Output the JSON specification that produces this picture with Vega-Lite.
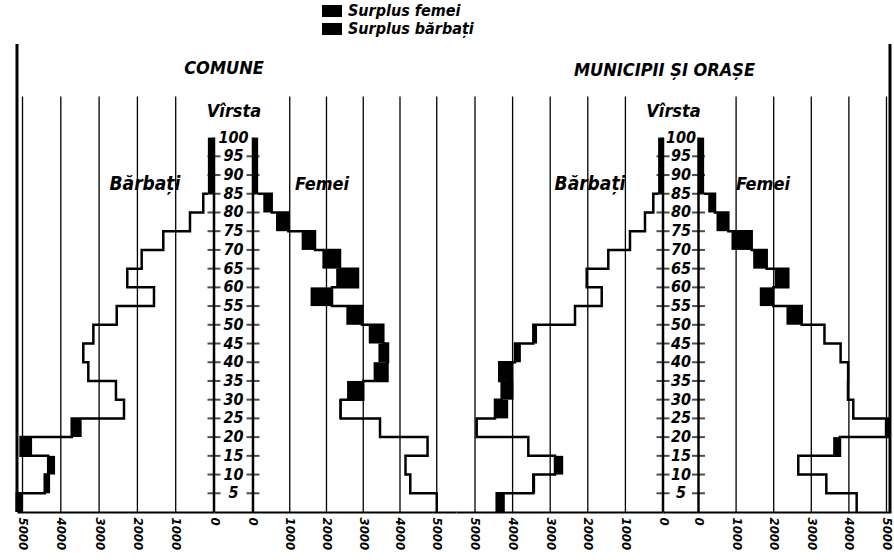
{
"$schema": "https://vega.github.io/schema/vega-lite/v6.json",
"padding": {"left": 11, "top": 1, "right": 0, "bottom": 0},
"background": "white",
"datasets": {
"pop": [
{"p":"C","a0":0,"a1":5,"m":5150,"f":5000},
{"p":"C","a0":5,"a1":10,"m":4420,"f":4280},
{"p":"C","a0":10,"a1":15,"m":4330,"f":4150},
{"p":"C","a0":15,"a1":20,"m":5050,"f":4750},
{"p":"C","a0":20,"a1":25,"m":3715,"f":3456},
{"p":"C","a0":25,"a1":30,"m":2350,"f":2386},
{"p":"C","a0":30,"a1":35,"m":2560,"f":3000},
{"p":"C","a0":35,"a1":40,"m":3282,"f":3660},
{"p":"C","a0":40,"a1":45,"m":3413,"f":3673},
{"p":"C","a0":45,"a1":50,"m":3150,"f":3546},
{"p":"C","a0":50,"a1":55,"m":2540,"f":2966},
{"p":"C","a0":55,"a1":60,"m":1567,"f":2150},
{"p":"C","a0":60,"a1":65,"m":2264,"f":2857},
{"p":"C","a0":65,"a1":70,"m":1888,"f":2367},
{"p":"C","a0":70,"a1":75,"m":1324,"f":1687},
{"p":"C","a0":75,"a1":80,"m":627,"f":961},
{"p":"C","a0":80,"a1":85,"m":280,"f":509},
{"p":"C","a0":85,"a1":100,"m":160,"f":140},
{"p":"O","a0":0,"a1":5,"m":4423,"f":4207},
{"p":"O","a0":5,"a1":10,"m":3450,"f":3400},
{"p":"O","a0":10,"a1":15,"m":2872,"f":2654},
{"p":"O","a0":15,"a1":20,"m":3582,"f":3763},
{"p":"O","a0":20,"a1":25,"m":4955,"f":5048},
{"p":"O","a0":25,"a1":30,"m":4468,"f":4117},
{"p":"O","a0":30,"a1":35,"m":4290,"f":3976},
{"p":"O","a0":35,"a1":40,"m":4354,"f":3980},
{"p":"O","a0":40,"a1":45,"m":3936,"f":3780},
{"p":"O","a0":45,"a1":50,"m":3449,"f":3350},
{"p":"O","a0":50,"a1":55,"m":2340,"f":2745},
{"p":"O","a0":55,"a1":60,"m":1630,"f":1989},
{"p":"O","a0":60,"a1":65,"m":2029,"f":2388},
{"p":"O","a0":65,"a1":70,"m":1455,"f":1814},
{"p":"O","a0":70,"a1":75,"m":878,"f":1415},
{"p":"O","a0":75,"a1":80,"m":479,"f":793},
{"p":"O","a0":80,"a1":85,"m":258,"f":439},
{"p":"O","a0":85,"a1":100,"m":130,"f":150}
],
"grid": [{"v":1000},{"v":2000},{"v":3000},{"v":4000},{"v":5000}],
"ages": [{"age":5},{"age":10},{"age":15},{"age":20},{"age":25},{"age":30},{"age":35},{"age":40},{"age":45},{"age":50},{"age":55},{"age":60},{"age":65},{"age":70},{"age":75},{"age":80},{"age":85},{"age":90},{"age":95},{"age":100}],
"legend": [{"k":"Surplus femei"},{"k":"Surplus bărbați"}]
},
"spacing": 0,
"bounds": "flush",
"hconcat": [
{
"width": 197, "height": 468,
"layer": [
{"data":{"name":"grid"},"mark":{"type":"rule","color":"black","strokeWidth":1.3},
"encoding":{"x":{"field":"v","type":"quantitative","scale":{"domain":[0,5144],"reverse":true,"nice":false,"zero":false},"axis":{"values":[0,1000,2000,3000,4000,5000],"format":"d"},"title":null},
"y":{"datum":0,"type":"quantitative","scale":{"domain":[0,125],"nice":false,"zero":false},"axis":null},"y2":{"datum":111}}},
{"data":{"name":"pop"},"transform":[{"filter":"datum.p=='C' && datum.a0<85 && datum.m>datum.f"}],"mark":{"type":"rect","color":"black"},
"encoding":{"x":{"field":"f","type":"quantitative","scale":{"domain":[0,5144],"reverse":true,"nice":false,"zero":false},"axis":{"values":[0,1000,2000,3000,4000,5000],"format":"d"},"title":null},"x2":{"field":"m"},
"y":{"field":"a0","type":"quantitative","scale":{"domain":[0,125],"nice":false,"zero":false},"axis":null},"y2":{"field":"a1"}}},
{"data":{"name":"pop"},"transform":[{"filter":"datum.p=='C'"}],"mark":{"type":"line","interpolate":"step-before","color":"black","strokeWidth":2.5},
"encoding":{"x":{"field":"m","type":"quantitative","scale":{"domain":[0,5144],"reverse":true,"nice":false,"zero":false},"axis":{"values":[0,1000,2000,3000,4000,5000],"format":"d"},"title":null},
"y":{"field":"a0","type":"quantitative","scale":{"domain":[0,125],"nice":false,"zero":false},"axis":null},"order":{"field":"a0","type":"quantitative"}}},
{"data":{"name":"pop"},"transform":[{"filter":"datum.p=='C' && datum.a0==85"}],"mark":{"type":"rect","color":"black"},
"encoding":{"x":{"field":"m","type":"quantitative","scale":{"domain":[0,5144],"reverse":true,"nice":false,"zero":false},"axis":{"values":[0,1000,2000,3000,4000,5000],"format":"d"},"title":null},"x2":{"datum":0},
"y":{"field":"a0","type":"quantitative","scale":{"domain":[0,125],"nice":false,"zero":false},"axis":null},"y2":{"field":"a1"}}},
{"data":{"values":[{}]},"mark":{"type":"rule","color":"black","strokeWidth":2.5},
"encoding":{"x":{"datum":0,"type":"quantitative","scale":{"domain":[0,5144],"reverse":true,"nice":false,"zero":false},"axis":{"values":[0,1000,2000,3000,4000,5000],"format":"d"},"title":null},
"y":{"datum":0,"type":"quantitative","scale":{"domain":[0,125],"nice":false,"zero":false},"axis":null},"y2":{"datum":100}}},
{"data":{"values":[{}]},"mark":{"type":"rule","color":"black","strokeWidth":3},
"encoding":{"x":{"datum":5144,"type":"quantitative","scale":{"domain":[0,5144],"reverse":true,"nice":false,"zero":false},"axis":{"values":[0,1000,2000,3000,4000,5000],"format":"d"},"title":null},
"y":{"datum":0,"type":"quantitative","scale":{"domain":[0,125],"nice":false,"zero":false},"axis":null},"y2":{"datum":125}}},
{"data":{"name":"ages"},"transform":[{"filter":"datum.age<100"}],"mark":{"type":"tick","orient":"horizontal","size":13,"thickness":2,"color":"black"},
"encoding":{"x":{"datum":0,"type":"quantitative","scale":{"domain":[0,5144],"reverse":true,"nice":false,"zero":false},"axis":{"values":[0,1000,2000,3000,4000,5000],"format":"d"},"title":null},
"y":{"field":"age","type":"quantitative","scale":{"domain":[0,125],"nice":false,"zero":false},"axis":null}}},
{"data":{"values":[{"t":"Bărbați"}]},"mark":{"type":"text","fontSize":19,"fontStyle":"italic","fontWeight":"bold","align":"center","baseline":"alphabetic","color":"black"},
"encoding":{"x":{"datum":1802,"type":"quantitative","scale":{"domain":[0,5144],"reverse":true,"nice":false,"zero":false},"axis":{"values":[0,1000,2000,3000,4000,5000],"format":"d"},"title":null},
"y":{"datum":86,"type":"quantitative","scale":{"domain":[0,125],"nice":false,"zero":false},"axis":null},"text":{"field":"t"}}}
]
},
{
"width": 242, "height": 468,
"layer": [
{"data":{"name":"grid"},"mark":{"type":"rule","color":"black","strokeWidth":1.3},
"encoding":{"x":{"field":"v","type":"quantitative","scale":{"domain":[-1061,5524],"nice":false,"zero":false},"axis":{"values":[0,1000,2000,3000,4000,5000],"format":"d"},"title":null},
"y":{"datum":0,"type":"quantitative","scale":{"domain":[0,125],"nice":false,"zero":false},"axis":null},"y2":{"datum":111}}},
{"data":{"name":"pop"},"transform":[{"filter":"datum.p=='C' && datum.a0<85 && datum.f>datum.m"}],"mark":{"type":"rect","color":"black"},
"encoding":{"x":{"field":"m","type":"quantitative","scale":{"domain":[-1061,5524],"nice":false,"zero":false},"axis":{"values":[0,1000,2000,3000,4000,5000],"format":"d"},"title":null},"x2":{"field":"f"},
"y":{"field":"a0","type":"quantitative","scale":{"domain":[0,125],"nice":false,"zero":false},"axis":null},"y2":{"field":"a1"}}},
{"data":{"name":"pop"},"transform":[{"filter":"datum.p=='C'"}],"mark":{"type":"line","interpolate":"step-before","color":"black","strokeWidth":2.5},
"encoding":{"x":{"field":"f","type":"quantitative","scale":{"domain":[-1061,5524],"nice":false,"zero":false},"axis":{"values":[0,1000,2000,3000,4000,5000],"format":"d"},"title":null},
"y":{"field":"a0","type":"quantitative","scale":{"domain":[0,125],"nice":false,"zero":false},"axis":null},"order":{"field":"a0","type":"quantitative"}}},
{"data":{"name":"pop"},"transform":[{"filter":"datum.p=='C' && datum.a0==85"}],"mark":{"type":"rect","color":"black"},
"encoding":{"x":{"field":"f","type":"quantitative","scale":{"domain":[-1061,5524],"nice":false,"zero":false},"axis":{"values":[0,1000,2000,3000,4000,5000],"format":"d"},"title":null},"x2":{"datum":0},
"y":{"field":"a0","type":"quantitative","scale":{"domain":[0,125],"nice":false,"zero":false},"axis":null},"y2":{"field":"a1"}}},
{"data":{"values":[{}]},"mark":{"type":"rule","color":"black","strokeWidth":2.5},
"encoding":{"x":{"datum":0,"type":"quantitative","scale":{"domain":[-1061,5524],"nice":false,"zero":false},"axis":{"values":[0,1000,2000,3000,4000,5000],"format":"d"},"title":null},
"y":{"datum":0,"type":"quantitative","scale":{"domain":[0,125],"nice":false,"zero":false},"axis":null},"y2":{"datum":100}}},
{"data":{"name":"ages"},"transform":[{"filter":"datum.age<100"}],"mark":{"type":"tick","orient":"horizontal","size":13,"thickness":2,"color":"black"},
"encoding":{"x":{"datum":0,"type":"quantitative","scale":{"domain":[-1061,5524],"nice":false,"zero":false},"axis":{"values":[0,1000,2000,3000,4000,5000],"format":"d"},"title":null},
"y":{"field":"age","type":"quantitative","scale":{"domain":[0,125],"nice":false,"zero":false},"axis":null}}},
{"data":{"name":"ages"},"mark":{"type":"text","fontSize":16,"fontStyle":"italic","fontWeight":"bold","align":"center","baseline":"middle","color":"black"},
"encoding":{"x":{"datum":-531,"type":"quantitative","scale":{"domain":[-1061,5524],"nice":false,"zero":false},"axis":{"values":[0,1000,2000,3000,4000,5000],"format":"d"},"title":null},
"y":{"field":"age","type":"quantitative","scale":{"domain":[0,125],"nice":false,"zero":false},"axis":null},"text":{"field":"age","type":"quantitative"}}},
{"data":{"values":[{"t":"Vîrsta","x":-517,"y":105.5},{"t":"Femei","x":1878,"y":86},{"t":"COMUNE","x":-789,"y":117}]},"mark":{"type":"text","fontSize":18,"fontStyle":"italic","fontWeight":"bold","align":"center","baseline":"alphabetic","color":"black"},
"encoding":{"x":{"field":"x","type":"quantitative","scale":{"domain":[-1061,5524],"nice":false,"zero":false},"axis":{"values":[0,1000,2000,3000,4000,5000],"format":"d"},"title":null},
"y":{"field":"y","type":"quantitative","scale":{"domain":[0,125],"nice":false,"zero":false},"axis":null},"text":{"field":"t"}}},
{"data":{"name":"legend"},"mark":{"type":"point","opacity":0},
"encoding":{"x":{"datum":2000,"type":"quantitative","scale":{"domain":[-1061,5524],"nice":false,"zero":false},"axis":{"values":[0,1000,2000,3000,4000,5000],"format":"d"},"title":null},
"y":{"datum":50,"type":"quantitative","scale":{"domain":[0,125],"nice":false,"zero":false},"axis":null},
"fill":{"field":"k","type":"nominal","scale":{"domain":["Surplus femei","Surplus bărbați"],"range":["black","black"]},"legend":{"title":null}}}}
]
},
{
"width": 207, "height": 468,
"layer": [
{"data":{"name":"grid"},"mark":{"type":"rule","color":"black","strokeWidth":1.3},
"encoding":{"x":{"field":"v","type":"quantitative","scale":{"domain":[0,5505],"reverse":true,"nice":false,"zero":false},"axis":{"values":[0,1000,2000,3000,4000,5000],"format":"d"},"title":null},
"y":{"datum":0,"type":"quantitative","scale":{"domain":[0,125],"nice":false,"zero":false},"axis":null},"y2":{"datum":111}}},
{"data":{"name":"pop"},"transform":[{"filter":"datum.p=='O' && datum.a0<85 && datum.m>datum.f"}],"mark":{"type":"rect","color":"black"},
"encoding":{"x":{"field":"f","type":"quantitative","scale":{"domain":[0,5505],"reverse":true,"nice":false,"zero":false},"axis":{"values":[0,1000,2000,3000,4000,5000],"format":"d"},"title":null},"x2":{"field":"m"},
"y":{"field":"a0","type":"quantitative","scale":{"domain":[0,125],"nice":false,"zero":false},"axis":null},"y2":{"field":"a1"}}},
{"data":{"name":"pop"},"transform":[{"filter":"datum.p=='O'"}],"mark":{"type":"line","interpolate":"step-before","color":"black","strokeWidth":2.5},
"encoding":{"x":{"field":"m","type":"quantitative","scale":{"domain":[0,5505],"reverse":true,"nice":false,"zero":false},"axis":{"values":[0,1000,2000,3000,4000,5000],"format":"d"},"title":null},
"y":{"field":"a0","type":"quantitative","scale":{"domain":[0,125],"nice":false,"zero":false},"axis":null},"order":{"field":"a0","type":"quantitative"}}},
{"data":{"name":"pop"},"transform":[{"filter":"datum.p=='O' && datum.a0==85"}],"mark":{"type":"rect","color":"black"},
"encoding":{"x":{"field":"m","type":"quantitative","scale":{"domain":[0,5505],"reverse":true,"nice":false,"zero":false},"axis":{"values":[0,1000,2000,3000,4000,5000],"format":"d"},"title":null},"x2":{"datum":0},
"y":{"field":"a0","type":"quantitative","scale":{"domain":[0,125],"nice":false,"zero":false},"axis":null},"y2":{"field":"a1"}}},
{"data":{"values":[{}]},"mark":{"type":"rule","color":"black","strokeWidth":2.5},
"encoding":{"x":{"datum":0,"type":"quantitative","scale":{"domain":[0,5505],"reverse":true,"nice":false,"zero":false},"axis":{"values":[0,1000,2000,3000,4000,5000],"format":"d"},"title":null},
"y":{"datum":0,"type":"quantitative","scale":{"domain":[0,125],"nice":false,"zero":false},"axis":null},"y2":{"datum":100}}},
{"data":{"name":"ages"},"transform":[{"filter":"datum.age<100"}],"mark":{"type":"tick","orient":"horizontal","size":13,"thickness":2,"color":"black"},
"encoding":{"x":{"datum":0,"type":"quantitative","scale":{"domain":[0,5505],"reverse":true,"nice":false,"zero":false},"axis":{"values":[0,1000,2000,3000,4000,5000],"format":"d"},"title":null},
"y":{"field":"age","type":"quantitative","scale":{"domain":[0,125],"nice":false,"zero":false},"axis":null}}},
{"data":{"values":[{"t":"Bărbați"}]},"mark":{"type":"text","fontSize":19,"fontStyle":"italic","fontWeight":"bold","align":"center","baseline":"alphabetic","color":"black"},
"encoding":{"x":{"datum":1941,"type":"quantitative","scale":{"domain":[0,5505],"reverse":true,"nice":false,"zero":false},"axis":{"values":[0,1000,2000,3000,4000,5000],"format":"d"},"title":null},
"y":{"datum":86,"type":"quantitative","scale":{"domain":[0,125],"nice":false,"zero":false},"axis":null},"text":{"field":"t"}}}
]
},
{
"width": 228, "height": 468,
"layer": [
{"data":{"name":"grid"},"mark":{"type":"rule","color":"black","strokeWidth":1.3},
"encoding":{"x":{"field":"v","type":"quantitative","scale":{"domain":[-944,5120],"nice":false,"zero":false},"axis":{"values":[0,1000,2000,3000,4000,5000],"format":"d"},"title":null},
"y":{"datum":0,"type":"quantitative","scale":{"domain":[0,125],"nice":false,"zero":false},"axis":null},"y2":{"datum":111}}},
{"data":{"name":"pop"},"transform":[{"filter":"datum.p=='O' && datum.a0<85 && datum.f>datum.m"}],"mark":{"type":"rect","color":"black"},
"encoding":{"x":{"field":"m","type":"quantitative","scale":{"domain":[-944,5120],"nice":false,"zero":false},"axis":{"values":[0,1000,2000,3000,4000,5000],"format":"d"},"title":null},"x2":{"field":"f"},
"y":{"field":"a0","type":"quantitative","scale":{"domain":[0,125],"nice":false,"zero":false},"axis":null},"y2":{"field":"a1"}}},
{"data":{"name":"pop"},"transform":[{"filter":"datum.p=='O'"}],"mark":{"type":"line","interpolate":"step-before","color":"black","strokeWidth":2.5},
"encoding":{"x":{"field":"f","type":"quantitative","scale":{"domain":[-944,5120],"nice":false,"zero":false},"axis":{"values":[0,1000,2000,3000,4000,5000],"format":"d"},"title":null},
"y":{"field":"a0","type":"quantitative","scale":{"domain":[0,125],"nice":false,"zero":false},"axis":null},"order":{"field":"a0","type":"quantitative"}}},
{"data":{"name":"pop"},"transform":[{"filter":"datum.p=='O' && datum.a0==85"}],"mark":{"type":"rect","color":"black"},
"encoding":{"x":{"field":"f","type":"quantitative","scale":{"domain":[-944,5120],"nice":false,"zero":false},"axis":{"values":[0,1000,2000,3000,4000,5000],"format":"d"},"title":null},"x2":{"datum":0},
"y":{"field":"a0","type":"quantitative","scale":{"domain":[0,125],"nice":false,"zero":false},"axis":null},"y2":{"field":"a1"}}},
{"data":{"values":[{}]},"mark":{"type":"rule","color":"black","strokeWidth":2.5},
"encoding":{"x":{"datum":0,"type":"quantitative","scale":{"domain":[-944,5120],"nice":false,"zero":false},"axis":{"values":[0,1000,2000,3000,4000,5000],"format":"d"},"title":null},
"y":{"datum":0,"type":"quantitative","scale":{"domain":[0,125],"nice":false,"zero":false},"axis":null},"y2":{"datum":100}}},
{"data":{"values":[{}]},"mark":{"type":"rule","color":"black","strokeWidth":3},
"encoding":{"x":{"datum":5093,"type":"quantitative","scale":{"domain":[-944,5120],"nice":false,"zero":false},"axis":{"values":[0,1000,2000,3000,4000,5000],"format":"d"},"title":null},
"y":{"datum":0,"type":"quantitative","scale":{"domain":[0,125],"nice":false,"zero":false},"axis":null},"y2":{"datum":125}}},
{"data":{"name":"ages"},"transform":[{"filter":"datum.age<100"}],"mark":{"type":"tick","orient":"horizontal","size":13,"thickness":2,"color":"black"},
"encoding":{"x":{"datum":0,"type":"quantitative","scale":{"domain":[-944,5120],"nice":false,"zero":false},"axis":{"values":[0,1000,2000,3000,4000,5000],"format":"d"},"title":null},
"y":{"field":"age","type":"quantitative","scale":{"domain":[0,125],"nice":false,"zero":false},"axis":null}}},
{"data":{"name":"ages"},"mark":{"type":"text","fontSize":16,"fontStyle":"italic","fontWeight":"bold","align":"center","baseline":"middle","color":"black"},
"encoding":{"x":{"datum":-465,"type":"quantitative","scale":{"domain":[-944,5120],"nice":false,"zero":false},"axis":{"values":[0,1000,2000,3000,4000,5000],"format":"d"},"title":null},
"y":{"field":"age","type":"quantitative","scale":{"domain":[0,125],"nice":false,"zero":false},"axis":null},"text":{"field":"age","type":"quantitative"}}},
{"data":{"values":[{"t":"Vîrsta","x":-665,"y":105.5},{"t":"Femei","x":1715,"y":86},{"t":"MUNICIPII ȘI ORAȘE","x":-904,"y":116.5}]},"mark":{"type":"text","fontSize":18,"fontStyle":"italic","fontWeight":"bold","align":"center","baseline":"alphabetic","color":"black"},
"encoding":{"x":{"field":"x","type":"quantitative","scale":{"domain":[-944,5120],"nice":false,"zero":false},"axis":{"values":[0,1000,2000,3000,4000,5000],"format":"d"},"title":null},
"y":{"field":"y","type":"quantitative","scale":{"domain":[0,125],"nice":false,"zero":false},"axis":null},"text":{"field":"t"}}}
]
}
],
"config": {
"view": {"stroke": null},
"font": "Liberation Sans Narrow, DejaVu Sans Condensed, sans-serif",
"axis": {"domainColor":"black","domainWidth":2,"ticks":false,"grid":false,"labelAngle":90,"labelFont":"Liberation Sans Narrow, DejaVu Sans Condensed, sans-serif","labelFontSize":13,"labelFontStyle":"italic","labelFontWeight":"bold","labelColor":"black","labelPadding":5},
"legend": {"orient":"none","legendX":305,"legendY":-43,"symbolType":"M-1,-0.6H1V0.6H-1Z","symbolSize":400,"symbolStrokeWidth":0,"symbolOpacity":1,"labelFont":"Liberation Sans Narrow, DejaVu Sans Condensed, sans-serif","labelFontSize":16,"labelFontStyle":"italic","labelFontWeight":"bold","labelColor":"black","labelOffset":6,"rowPadding":-2,"padding":0}
}
}
